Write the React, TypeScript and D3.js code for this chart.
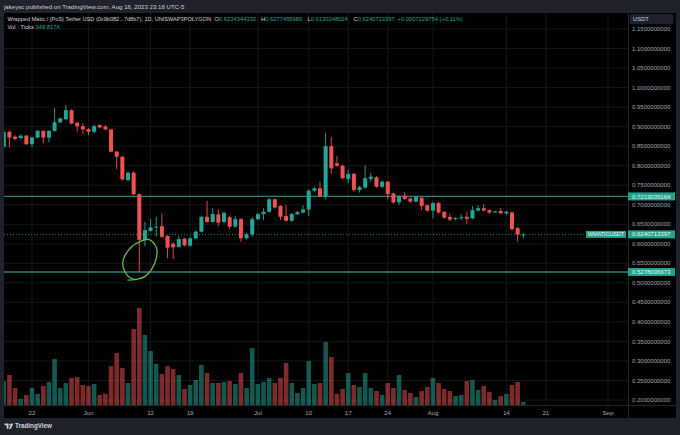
import React, { useEffect, useRef } from 'react';
import * as d3 from 'd3';

// daily candles, 2023-05-17 .. 2023-08-17 (UTC)
const firstDay = '2023-05-17';
const lastDay = '2023-08-17';

const opens = [
  0.848, 0.887, 0.874, 0.871, 0.877, 0.855, 0.872, 0.889, 0.872, 0.889,
  0.911, 0.919, 0.942, 0.910, 0.901, 0.894, 0.887, 0.904, 0.900, 0.893,
  0.836, 0.823, 0.763, 0.782, 0.727, 0.610, 0.633, 0.642, 0.645, 0.620,
  0.600, 0.592, 0.613, 0.595, 0.614, 0.631, 0.669, 0.656, 0.675, 0.656,
  0.668, 0.644, 0.663, 0.614, 0.624, 0.663, 0.676, 0.682, 0.714, 0.697,
  0.671, 0.659, 0.676, 0.680, 0.688, 0.736, 0.742, 0.722, 0.850, 0.806,
  0.800, 0.766, 0.779, 0.738, 0.744, 0.766, 0.770, 0.746, 0.759, 0.729,
  0.706, 0.723, 0.716, 0.708, 0.718, 0.699, 0.685, 0.704, 0.682, 0.669,
  0.664, 0.666, 0.669, 0.665, 0.685, 0.691, 0.686, 0.681, 0.684, 0.678,
  0.680, 0.640, 0.6234344332,
];
const highs = [
  0.890, 0.890, 0.878, 0.880, 0.879, 0.874, 0.892, 0.891, 0.891, 0.948,
  0.923, 0.955, 0.944, 0.912, 0.908, 0.896, 0.906, 0.906, 0.904, 0.895,
  0.838, 0.825, 0.785, 0.786, 0.729, 0.656, 0.663, 0.669, 0.678, 0.622,
  0.604, 0.620, 0.615, 0.617, 0.634, 0.672, 0.710, 0.691, 0.688, 0.682,
  0.671, 0.671, 0.666, 0.627, 0.669, 0.679, 0.691, 0.717, 0.716, 0.699,
  0.699, 0.679, 0.684, 0.699, 0.739, 0.746, 0.759, 0.884, 0.874, 0.825,
  0.803, 0.789, 0.781, 0.748, 0.802, 0.782, 0.773, 0.762, 0.761, 0.731,
  0.725, 0.733, 0.719, 0.723, 0.721, 0.701, 0.707, 0.707, 0.684, 0.678,
  0.668, 0.675, 0.682, 0.697, 0.699, 0.702, 0.688, 0.685, 0.691, 0.685,
  0.683, 0.643, 0.6277455980,
];
const lows = [
  0.845, 0.847, 0.865, 0.868, 0.853, 0.847, 0.870, 0.857, 0.860, 0.887,
  0.909, 0.917, 0.906, 0.887, 0.881, 0.878, 0.883, 0.896, 0.890, 0.834,
  0.791, 0.762, 0.760, 0.724, 0.5278036973, 0.594, 0.630, 0.618, 0.615, 0.563,
  0.561, 0.590, 0.593, 0.593, 0.612, 0.629, 0.654, 0.654, 0.645, 0.653,
  0.637, 0.641, 0.605, 0.611, 0.618, 0.660, 0.661, 0.679, 0.690, 0.661,
  0.657, 0.656, 0.673, 0.678, 0.671, 0.733, 0.719, 0.714, 0.780, 0.797,
  0.765, 0.755, 0.733, 0.731, 0.741, 0.759, 0.744, 0.743, 0.714, 0.703,
  0.699, 0.712, 0.705, 0.706, 0.686, 0.682, 0.665, 0.677, 0.664, 0.658,
  0.660, 0.661, 0.651, 0.663, 0.683, 0.683, 0.677, 0.679, 0.676, 0.674,
  0.633, 0.605, 0.6130248024,
];
const closes = [
  0.887, 0.872, 0.869, 0.877, 0.855, 0.872, 0.889, 0.872, 0.889, 0.911,
  0.921, 0.942, 0.908, 0.901, 0.893, 0.887, 0.901, 0.898, 0.893, 0.836,
  0.823, 0.765, 0.782, 0.727, 0.610, 0.635, 0.642, 0.644, 0.618, 0.590,
  0.591, 0.612, 0.596, 0.614, 0.631, 0.669, 0.656, 0.676, 0.654, 0.679,
  0.644, 0.663, 0.614, 0.624, 0.663, 0.676, 0.682, 0.714, 0.693, 0.669,
  0.659, 0.676, 0.681, 0.688, 0.736, 0.742, 0.722, 0.850, 0.793, 0.800,
  0.768, 0.779, 0.738, 0.745, 0.768, 0.772, 0.746, 0.759, 0.727, 0.706,
  0.722, 0.715, 0.708, 0.720, 0.697, 0.685, 0.704, 0.680, 0.667, 0.662,
  0.666, 0.668, 0.664, 0.686, 0.691, 0.685, 0.680, 0.683, 0.678, 0.682,
  0.638, 0.6233583643, 0.6240713397,
];
// volume (ticks, thousands)
const volumes = [
  2780, 3480, 1970, 700, 1160, 1970, 1280, 2200, 2670, 5340,
  1970, 2550, 3130, 3250, 2320, 2200, 2440, 1160, 1280, 4520,
  6030, 4290, 2550, 8820, 11250, 8120, 6260, 4760, 3600, 4520,
  4180, 3480, 1860, 2320, 2900, 4640, 3710, 2550, 2550, 2670,
  2780, 2440, 3710, 1970, 6610, 2440, 2670, 3130, 2550, 3130,
  4870, 2550, 1390, 1970, 5100, 2440, 2550, 7310, 5570, 1280,
  1860, 3710, 2320, 2090, 3710, 1970, 1620, 1160, 2550, 1970,
  3480, 1740, 1390, 930, 1620, 2090, 3130, 2550, 1860, 1620,
  1040, 1160, 2780, 2900, 1740, 2200, 1510, 580, 1040, 1280,
  2320, 2670, 349.817,
];

const priceTicks = [0.2, 0.25, 0.3, 0.35, 0.4, 0.45, 0.5, 0.55, 0.6, 0.65, 0.7, 0.75, 0.8, 0.85, 0.9, 0.95, 1.0, 1.05, 1.1, 1.15];
const timeTicks = [
  { date: '2023-05-22', label: '22' },
  { date: '2023-06-01', label: 'Jun' },
  { date: '2023-06-12', label: '12' },
  { date: '2023-06-19', label: '19' },
  { date: '2023-07-01', label: 'Jul' },
  { date: '2023-07-10', label: '10' },
  { date: '2023-07-17', label: '17' },
  { date: '2023-07-24', label: '24' },
  { date: '2023-08-01', label: 'Aug' },
  { date: '2023-08-14', label: '14' },
  { date: '2023-08-21', label: '21' },
  { date: '2023-09-01', label: 'Sep' },
];
const levelLines = [0.7213039164, 0.5278036973];
const lastPrice = 0.6240713397;
// hand drawn loop: [days after 2023-05-22, price]
const loopPts: [number, number][] = [
  [17.0, 0.507], [18.5, 0.509], [20.0, 0.516], [21.2, 0.535], [21.95, 0.560],
  [22.1, 0.586], [21.5, 0.603], [20.6, 0.6115], [19.1, 0.6055], [17.65, 0.5925],
  [16.5, 0.571], [16.05, 0.550], [16.45, 0.5285], [17.35, 0.513], [18.4, 0.5085],
];

const UP = '#26a69a';
const DOWN = '#ef5350';
const TEXT = '#d1d4dc';
const FONT = '"Liberation Sans", Arial, sans-serif';

export default function App() {
  const svgRef = useRef<SVGSVGElement>(null);

  useEffect(() => {
    if (!svgRef.current) return;
    const svg = d3.select(svgRef.current);
    svg.selectAll('*').remove();

    const W = 680, H = 435;
    const left = 4, plotRight = 628, right = 676, top = 13, plotBottom = 405, axisBottom = 418;

    const days = d3.utcDay.range(new Date(firstDay), d3.utcDay.offset(new Date(lastDay), 1));
    const candles = days.map((date, i) => ({
      date, open: opens[i], high: highs[i], low: lows[i], close: closes[i], vol: volumes[i],
    }));

    const x = d3.scaleUtc()
      .domain([new Date('2023-05-22'), new Date('2023-09-01')])
      .range([32, 608]);
    const y = d3.scaleLinear().domain([0.2, 1.15]).range([400, 29]);
    const yVol = d3.scaleLinear().domain([0, 11600]).range([plotBottom, plotBottom - 100]);
    const fmt = d3.format('.10f');

    // frame
    svg.append('rect').attr('width', W).attr('height', H).attr('fill', '#1f222b');
    svg.append('rect')
      .attr('x', left).attr('y', top)
      .attr('width', right - left).attr('height', axisBottom - top)
      .attr('fill', '#000');

    const defs = svg.append('defs');
    defs.append('clipPath').attr('id', 'plot-clip')
      .append('rect')
      .attr('x', left).attr('y', top)
      .attr('width', plotRight - left).attr('height', plotBottom - top);

    // grid
    const grid = svg.append('g').attr('clip-path', 'url(#plot-clip)');
    grid.selectAll('.hgrid')
      .data(priceTicks)
      .join('line')
      .attr('x1', left).attr('x2', plotRight)
      .attr('y1', d => y(d)).attr('y2', d => y(d))
      .attr('stroke', '#151618').attr('stroke-width', 1);
    grid.selectAll('.vgrid')
      .data(timeTicks)
      .join('line')
      .attr('x1', d => x(new Date(d.date))).attr('x2', d => x(new Date(d.date)))
      .attr('y1', top).attr('y2', plotBottom)
      .attr('stroke', '#151618').attr('stroke-width', 1);

    const plot = svg.append('g').attr('clip-path', 'url(#plot-clip)');

    // volume
    plot.selectAll('.vol')
      .data(candles)
      .join('rect')
      .attr('x', d => x(d.date) - 2.3)
      .attr('width', 4.6)
      .attr('y', d => yVol(d.vol))
      .attr('height', d => plotBottom - yVol(d.vol))
      .attr('fill', d => d.close >= d.open ? UP : DOWN)
      .attr('opacity', 0.52);

    // level lines
    plot.selectAll('.level')
      .data(levelLines)
      .join('line')
      .attr('x1', left).attr('x2', plotRight)
      .attr('y1', d => y(d)).attr('y2', d => y(d))
      .attr('stroke', '#2a8673').attr('stroke-width', 1.4);

    // last price dotted line
    plot.append('line')
      .attr('x1', left).attr('x2', plotRight)
      .attr('y1', y(lastPrice)).attr('y2', y(lastPrice))
      .attr('stroke', UP).attr('stroke-width', 0.8)
      .attr('stroke-dasharray', '1 2');

    // wicks
    plot.selectAll('.wick')
      .data(candles)
      .join('line')
      .attr('x1', d => x(d.date)).attr('x2', d => x(d.date))
      .attr('y1', d => y(d.high)).attr('y2', d => y(d.low))
      .attr('stroke', d => d.close >= d.open ? UP : DOWN)
      .attr('stroke-width', 0.9);

    // bodies
    plot.selectAll('.body')
      .data(candles)
      .join('rect')
      .attr('x', d => x(d.date) - 2)
      .attr('width', 4)
      .attr('y', d => y(Math.max(d.open, d.close)))
      .attr('height', d => Math.max(1, Math.abs(y(d.open) - y(d.close))))
      .attr('fill', d => d.close >= d.open ? UP : DOWN);

    // hand drawn loop
    const day0 = new Date('2023-05-22').getTime();
    const loop = d3.line<[number, number]>()
      .x(d => x(new Date(day0 + d[0] * 864e5)))
      .y(d => y(d[1]))
      .curve(d3.curveCatmullRom);
    plot.append('path')
      .attr('d', loop(loopPts))
      .attr('fill', 'none')
      .attr('stroke', '#5cbf4a')
      .attr('stroke-width', 1.3)
      .attr('stroke-linecap', 'round');

    // separators
    svg.append('line')
      .attr('x1', plotRight + 0.5).attr('x2', plotRight + 0.5)
      .attr('y1', top).attr('y2', axisBottom)
      .attr('stroke', '#22252d');
    svg.append('line')
      .attr('x1', left).attr('x2', right)
      .attr('y1', plotBottom + 0.5).attr('y2', plotBottom + 0.5)
      .attr('stroke', '#22252d');

    // price axis
    svg.append('g')
      .selectAll('text')
      .data(priceTicks)
      .join('text')
      .attr('x', 632)
      .attr('y', d => y(d))
      .attr('dy', '0.35em')
      .attr('fill', '#a3a6af')
      .attr('font-family', FONT)
      .attr('font-size', 6)
      .text(d => fmt(d));

    // time axis
    svg.append('g')
      .selectAll('text')
      .data(timeTicks)
      .join('text')
      .attr('x', d => x(new Date(d.date)))
      .attr('y', 412.5)
      .attr('dy', '0.35em')
      .attr('text-anchor', 'middle')
      .attr('fill', '#a3a6af')
      .attr('font-family', FONT)
      .attr('font-size', 6.2)
      .text(d => d.label);

    // axis labels for levels and last price
    const labels = [...levelLines, lastPrice];
    svg.selectAll('.lbl-box')
      .data(labels)
      .join('rect')
      .attr('x', plotRight)
      .attr('y', d => y(d) - 4)
      .attr('width', right - plotRight - 1)
      .attr('height', 8)
      .attr('fill', '#22a38e');
    svg.selectAll('.lbl-text')
      .data(labels)
      .join('text')
      .attr('x', 632)
      .attr('y', d => y(d))
      .attr('dy', '0.35em')
      .attr('fill', '#f0f3f5')
      .attr('font-family', FONT)
      .attr('font-size', 6)
      .text(d => fmt(d));

    svg.append('rect')
      .attr('x', 586).attr('y', y(lastPrice) - 3.5)
      .attr('width', 40).attr('height', 7)
      .attr('fill', '#22a38e');
    svg.append('text')
      .attr('x', 606).attr('y', y(lastPrice))
      .attr('dy', '0.35em')
      .attr('text-anchor', 'middle')
      .attr('fill', '#f0f3f5')
      .attr('font-family', FONT)
      .attr('font-size', 5.4)
      .text('WMATICUSDT');

    // currency button
    svg.append('rect')
      .attr('x', 630).attr('y', 14.5)
      .attr('width', 43).attr('height', 9)
      .attr('rx', 1.5)
      .attr('fill', '#1e222d')
      .attr('stroke', '#2a2e39').attr('stroke-width', 0.6);
    svg.append('text')
      .attr('x', 633).attr('y', 19)
      .attr('dy', '0.35em')
      .attr('fill', TEXT)
      .attr('font-family', FONT)
      .attr('font-size', 5.8)
      .text('USDT');

    // header
    svg.append('text')
      .attr('x', 4).attr('y', 6.8)
      .attr('dy', '0.35em')
      .attr('fill', TEXT)
      .attr('font-family', FONT)
      .attr('font-size', 6.1)
      .text('jakeysc published on TradingView.com, Aug 16, 2023 23:18 UTC-5');

    const legend = [
      { x: 7.5, size: 5.6, key: 'Wrapped Matic / (PoS) Tether USD (0x9b082...7d8b7), 1D, UNISWAP3POLYGON', val: '' },
      { x: 214.5, size: 5.8, key: 'O', val: '0.6234344332' },
      { x: 261, size: 5.8, key: 'H', val: '0.6277455980' },
      { x: 307.5, size: 5.8, key: 'L', val: '0.6130248024' },
      { x: 353.5, size: 5.8, key: 'C', val: '0.6240713397' },
      { x: 397.5, size: 5.8, key: '', val: '+0.0007129754 (+0.11%)' },
    ];
    const leg = svg.append('g').attr('font-family', FONT);
    legend.forEach(l => {
      const t = leg.append('text')
        .attr('x', l.x).attr('y', 19).attr('dy', '0.35em')
        .attr('font-size', l.size);
      t.append('tspan').attr('fill', TEXT).text(l.key);
      t.append('tspan').attr('fill', UP).text(l.val);
    });
    const vol = leg.append('text')
      .attr('x', 7.5).attr('y', 27.3).attr('dy', '0.35em')
      .attr('font-size', 5.8);
    vol.append('tspan').attr('fill', TEXT).text('Vol · Ticks ');
    vol.append('tspan').attr('fill', UP).text('349.817K');

    // footer logo
    const logo = svg.append('g').attr('fill', TEXT);
    logo.append('path').attr('d', 'M4.5,423.5 h4 v5.2 h-1.8 v-3.4 h-2.2 z');
    logo.append('circle').attr('cx', 10).attr('cy', 424.6).attr('r', 0.9);
    logo.append('path').attr('d', 'M11.4,423.5 h1.9 l-2.4,5.2 h-1.9 z');
    svg.append('text')
      .attr('x', 15).attr('y', 426.2)
      .attr('dy', '0.35em')
      .attr('fill', TEXT)
      .attr('font-family', FONT)
      .attr('font-size', 6.3)
      .attr('font-weight', 'bold')
      .text('TradingView');
  }, []);

  return (
    <svg
      ref={svgRef}
      width={680}
      height={435}
      style={{ position: 'absolute', left: 0, top: 0, display: 'block' }}
    />
  );
}
